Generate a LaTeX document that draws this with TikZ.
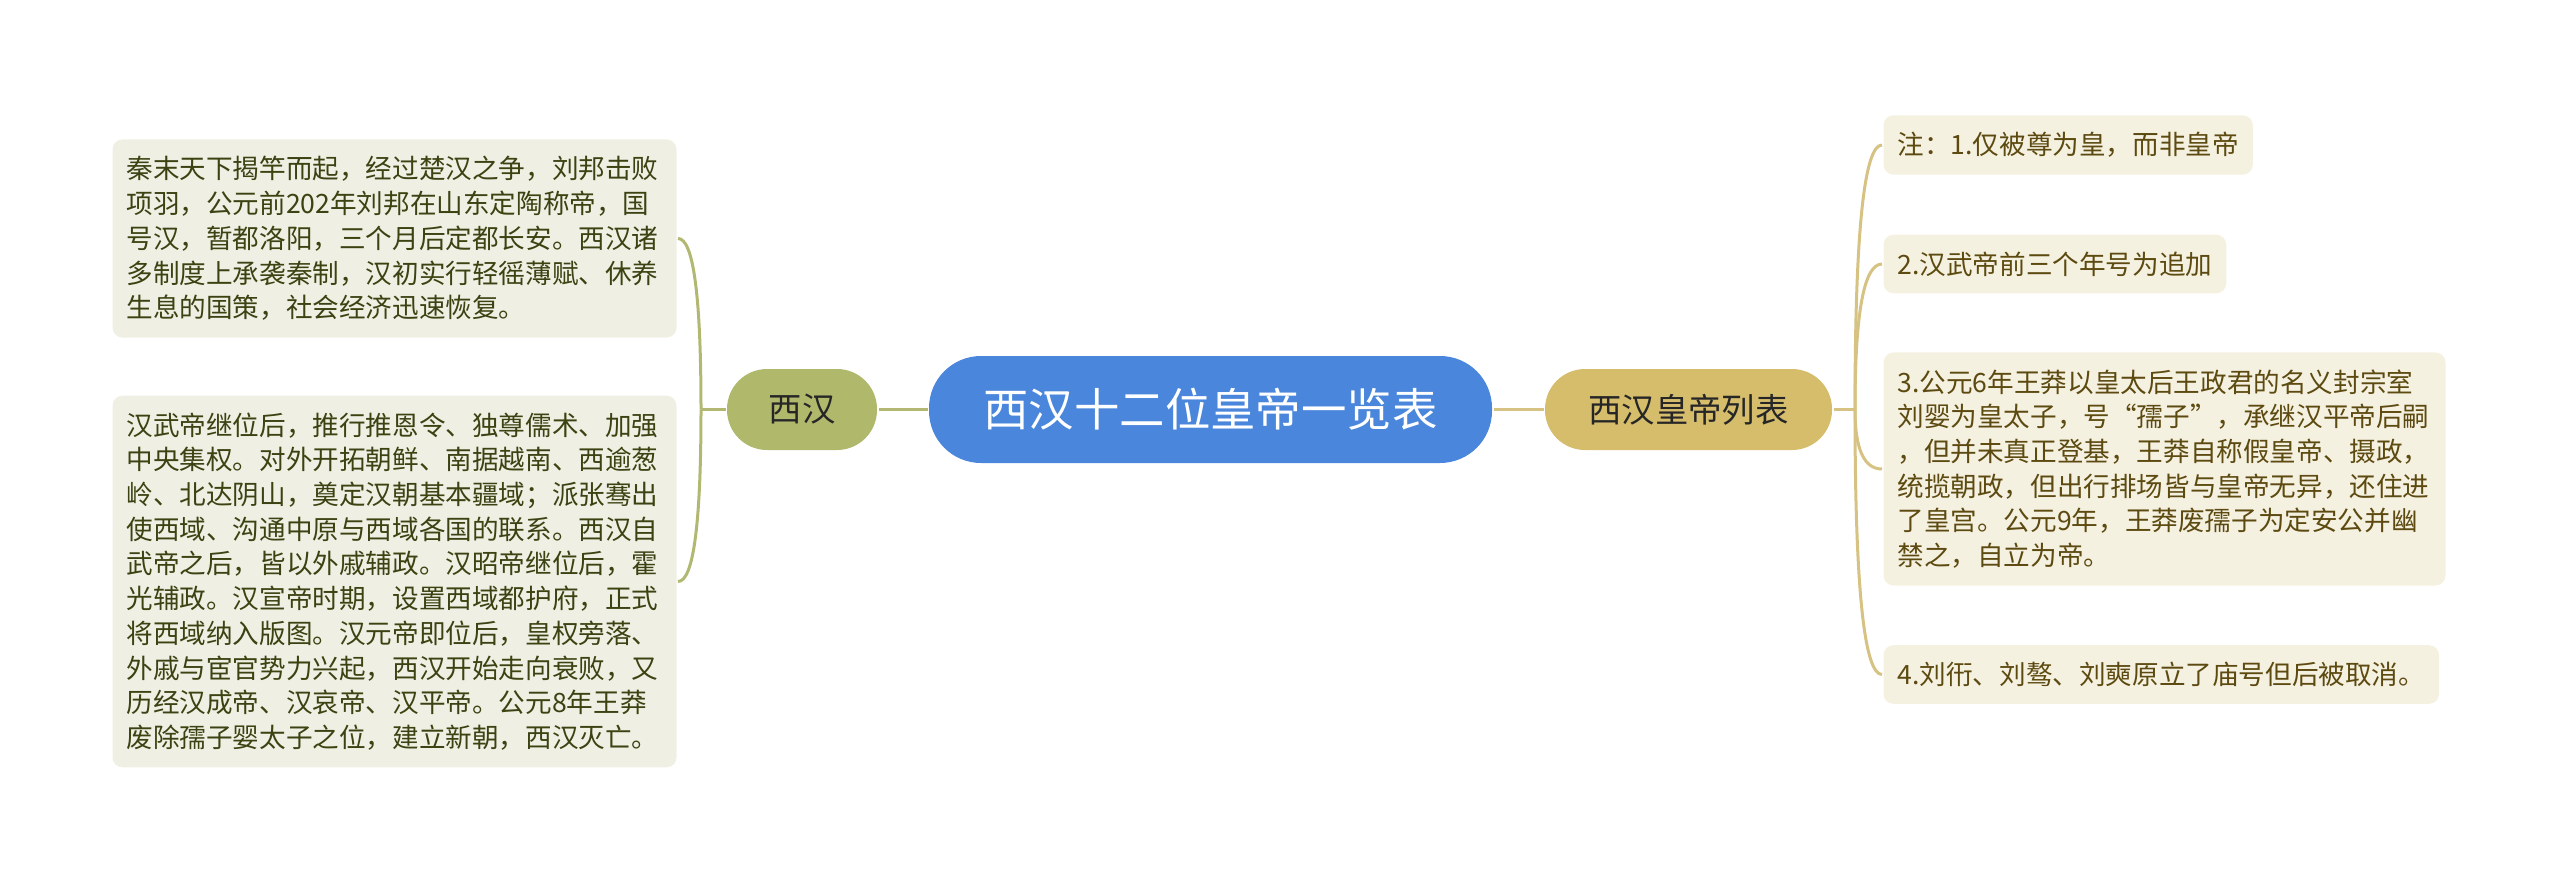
\documentclass[tikz,border=0pt]{standalone}
\usepackage{fontspec}
\setmainfont{Noto Sans CJK SC}
\usetikzlibrary{calc}

\definecolor{rootblue}{HTML}{4A86DB}
\definecolor{hangreen}{HTML}{B0B86C}
\definecolor{listgold}{HTML}{D5BD6C}
\definecolor{linegreen}{HTML}{B2B872}
\definecolor{linegold}{HTML}{D6C283}
\definecolor{leafgreen}{HTML}{EFF0E3}
\definecolor{leafgold}{HTML}{F5F1E1}
\definecolor{textgreen}{HTML}{3C4212}
\definecolor{textgold}{HTML}{5C4A10}

\begin{document}
\begin{tikzpicture}
  [
    x                   = 0.5pt,
    y                   = -0.5pt,
    line width          = 1.5pt,
    root/.style         = {fill=rootblue, text=white, rounded corners=26pt,
                           minimum width=281.5pt, minimum height=53.5pt,
                           font=\fontsize{22.7}{26}\selectfont},
    branch/.style       = {rounded corners=20pt, minimum height=40.5pt,
                           text=black!85, font=\fontsize{16.7}{20}\selectfont},
    leaf/.style         = {rounded corners=5pt, align=left, inner xsep=7pt,
                           inner ysep=8.5pt, font=\fontsize{13.3}{17.35}\selectfont},
    westleaf/.style     = {leaf, fill=leafgreen, text=textgreen, anchor=east},
    eastleaf/.style     = {leaf, fill=leafgold, text=textgold, anchor=west},
    greenline/.style    = {draw=linegreen},
    goldline/.style     = {draw=linegold}
  ]
  \useasboundingbox (0,0) rectangle (2560,883);

  \node[root] (root) at (1210.5,409.5) {西汉十二位皇帝一览表};
  \node[branch, fill=hangreen, minimum width=75pt] (xihan) at (802,409.5) {西汉};
  \node[branch, fill=listgold, minimum width=143.5pt] (liebiao) at (1688.5,409.5) {西汉皇帝列表};

  \node[westleaf, text width=268pt] (l1) at (678,238.5) {
    秦末天下揭竿而起，经过楚汉之争，刘邦击败\\
    项羽，公元前202年刘邦在山东定陶称帝，国\\
    号汉，暂都洛阳，三个月后定都长安。西汉诸\\
    多制度上承袭秦制，汉初实行轻徭薄赋、休养\\
    生息的国策，社会经济迅速恢复。};
  \node[westleaf, text width=268pt] (l2) at (678,581.5) {
    汉武帝继位后，推行推恩令、独尊儒术、加强\\
    中央集权。对外开拓朝鲜、南据越南、西逾葱\\
    岭、北达阴山，奠定汉朝基本疆域；派张骞出\\
    使西域、沟通中原与西域各国的联系。西汉自\\
    武帝之后，皆以外戚辅政。汉昭帝继位后，霍\\
    光辅政。汉宣帝时期，设置西域都护府，正式\\
    将西域纳入版图。汉元帝即位后，皇权旁落、\\
    外戚与宦官势力兴起，西汉开始走向衰败，又\\
    历经汉成帝、汉哀帝、汉平帝。公元8年王莽\\
    废除孺子婴太子之位，建立新朝，西汉灭亡。};

  \node[eastleaf] (r1) at (1882,145) {注：1.仅被尊为皇，而非皇帝};
  \node[eastleaf] (r2) at (1882,264) {2.汉武帝前三个年号为追加};
  \node[eastleaf, text width=267pt] (r3) at (1882,469) {
    3.公元6年王莽以皇太后王政君的名义封宗室\\
    刘婴为皇太子，号“孺子”，承继汉平帝后嗣\\
    ，但并未真正登基，王莽自称假皇帝、摄政，\\
    统揽朝政，但出行排场皆与皇帝无异，还住进\\
    了皇宫。公元9年，王莽废孺子为定安公并幽\\
    禁之，自立为帝。};
  \node[eastleaf] (r4) at (1882,674.5) {4.刘衎、刘骜、刘奭原立了庙号但后被取消。};

  \coordinate (jl) at (701,409.5);
  \coordinate (jr) at (1855,409.5);

  \draw[greenline] (root) -- (xihan);
  \draw[goldline] (root) -- (liebiao);
  \draw[greenline] (xihan.west) -- (jl);
  \draw[goldline] (liebiao.east) -- (jr);
  \foreach \n in {l1,l2}
    \draw[greenline] (jl) .. controls ($(jl)!.667!(jl|-\n.east)$)
      and ($(\n.east)!.667!(jl|-\n.east)$) .. (\n.east);
  \foreach \n in {r1,r2,r3,r4}
    \draw[goldline] (jr) .. controls ($(jr)!.667!(jr|-\n.west)$)
      and ($(\n.west)!.667!(jr|-\n.west)$) .. (\n.west);
\end{tikzpicture}
\end{document}
